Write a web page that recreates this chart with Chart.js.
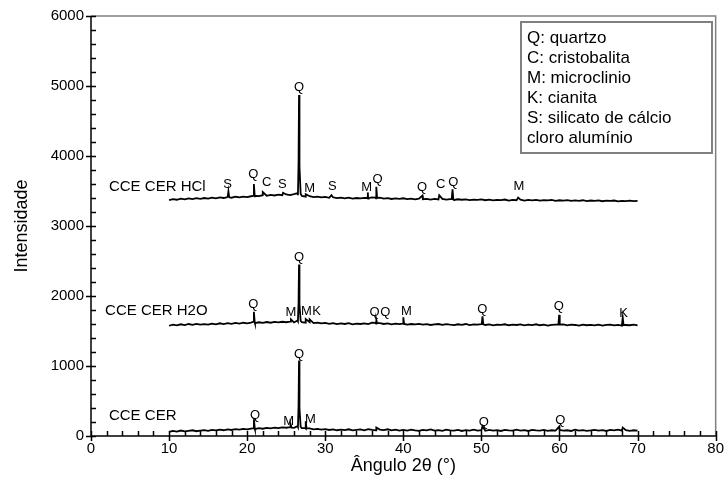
<!DOCTYPE html>
<html>
<head>
<meta charset="utf-8">
<script src="https://cdn.jsdelivr.net/npm/chart.js@4.4.1/dist/chart.umd.min.js"></script>
<style>
  html, body { margin: 0; background: #fff; }
</style>
</head>
<body>
<canvas id="xrd" width="728" height="500"></canvas>
<script>
// baseline scans, one value every 0.5 degree from 10 to 70
const angleStart = 10;
const angleStep = 0.5;

const cerBase = [
  58, 72, 64, 78, 66, 74, 82, 68, 76, 84,
  74, 86, 80, 92, 82, 94, 86, 98, 90, 102,
  96, 106, 98, 112, 104, 116, 108, 120, 112, 124,
  118, 126, 116, 128, 112, 104, 110, 96, 102, 92,
  98, 86, 94, 82, 90, 84, 96, 80, 88, 94,
  82, 98, 86, 80, 92, 84, 96, 80, 90, 78,
  86, 76, 92, 80, 74, 88, 80, 94, 78, 84,
  74, 90, 80, 76, 86, 72, 84, 78, 90, 76,
  82, 74, 88, 78, 84, 72, 86, 80, 76, 90,
  78, 84, 72, 88, 80, 76, 86, 74, 82, 78,
  86, 76, 82, 72, 90, 78, 84, 74, 80, 88,
  76, 84, 72, 86, 80, 92, 78, 84, 74, 82,
  78
];
const h2oBase = [
  1575, 1590, 1580, 1596, 1585, 1600, 1588, 1602, 1592, 1598,
  1590, 1605, 1595, 1610, 1598, 1612, 1602, 1615, 1605, 1618,
  1610, 1620, 1612, 1625, 1615, 1628, 1618, 1630, 1622, 1632,
  1625, 1635, 1622, 1640, 1628, 1620, 1626, 1612, 1620, 1608,
  1615, 1602, 1612, 1598, 1608, 1600, 1612, 1596, 1606, 1600,
  1610, 1598, 1618, 1605, 1612, 1600, 1608, 1596, 1604, 1598,
  1606, 1592, 1600, 1594, 1602, 1590, 1598, 1586, 1596, 1600,
  1588, 1598, 1590, 1585, 1596, 1588, 1600, 1584, 1594, 1590,
  1598, 1586, 1594, 1580, 1592, 1588, 1596, 1582, 1590, 1586,
  1594, 1580, 1590, 1585, 1596, 1582, 1590, 1578, 1588, 1592,
  1584, 1594, 1580, 1590, 1586, 1578, 1592, 1582, 1588, 1580,
  1590, 1578, 1586, 1592, 1580, 1588, 1576, 1586, 1582, 1590,
  1580
];
const hclBase = [
  3370, 3385, 3375, 3390, 3380, 3395, 3384, 3398, 3388, 3400,
  3392, 3405, 3396, 3410, 3400, 3414, 3404, 3418, 3408, 3420,
  3412, 3425, 3432, 3428, 3440, 3432, 3445, 3436, 3448, 3440,
  3450, 3442, 3455, 3440, 3430, 3420, 3426, 3412, 3420, 3408,
  3415, 3402, 3410, 3398, 3406, 3395, 3404, 3392, 3400, 3394,
  3402, 3390, 3410, 3396, 3404, 3390, 3398, 3386, 3395, 3388,
  3396, 3384, 3392, 3380, 3390, 3382, 3388, 3378, 3386, 3380,
  3388, 3376, 3384, 3372, 3382, 3375, 3380, 3370, 3378, 3374,
  3380, 3368, 3376, 3366, 3374, 3370, 3378, 3364, 3372, 3368,
  3376, 3364, 3372, 3366, 3374, 3362, 3370, 3366, 3372, 3360,
  3368, 3362, 3370, 3358, 3366, 3360, 3368, 3356, 3364, 3360,
  3366, 3354, 3362, 3358, 3364, 3352, 3360, 3356, 3362, 3354,
  3358
];

// reflections: [angle, intensity]
const cerPeaks = [
  [20.75, 110], [20.86, 240], [20.97, 112],
  [25.5, 125], [25.6, 170], [25.7, 120],
  [26.45, 140], [26.58, 420], [26.64, 1080], [26.7, 400], [26.85, 130],
  [27.4, 115], [27.5, 210], [27.6, 110],
  [36.54, 120], [50.14, 140], [59.96, 135], [68.1, 120]
];
const h2oPeaks = [
  [20.75, 1630], [20.86, 1775], [20.97, 1625],
  [25.6, 1665],
  [26.45, 1650], [26.58, 1900], [26.64, 2450], [26.7, 1880], [26.85, 1645],
  [27.5, 1670], [28.0, 1665],
  [36.44, 1615], [36.54, 1660], [36.64, 1612],
  [39.9, 1605], [40.0, 1695], [40.1, 1600],
  [50.04, 1600], [50.14, 1710], [50.24, 1595],
  [59.86, 1595], [59.96, 1730], [60.06, 1592],
  [68.0, 1592], [68.1, 1690], [68.2, 1588]
];
const hclPeaks = [
  [17.5, 3412], [17.6, 3495], [17.7, 3410],
  [20.75, 3430], [20.86, 3600], [20.97, 3425],
  [22.0, 3485], [24.6, 3475],
  [26.45, 3470], [26.58, 3900], [26.64, 4870], [26.7, 3850], [26.85, 3460],
  [27.5, 3455], [30.8, 3440],
  [35.35, 3400], [35.45, 3480], [35.55, 3398],
  [36.44, 3405], [36.54, 3560], [36.64, 3400],
  [42.45, 3435], [44.6, 3440],
  [46.2, 3385], [46.3, 3525], [46.4, 3380],
  [54.7, 3405]
];

// phase letters: [text, angle, intensity]
const cerTags = [
  ['Q', 21.0, 300], ['M', 25.3, 215], ['Q', 26.64, 1165], ['M', 28.1, 235],
  ['Q', 50.3, 200], ['Q', 60.1, 228]
];
const h2oTags = [
  ['Q', 20.8, 1880], ['M', 25.6, 1767], ['Q', 26.64, 2550], ['M', 27.6, 1786],
  ['K', 28.9, 1786], ['Q', 36.3, 1767], ['Q', 37.7, 1760], ['M', 40.4, 1781],
  ['Q', 50.1, 1810], ['Q', 59.9, 1857], ['K', 68.2, 1753]
];
const hclTags = [
  ['S', 17.5, 3590], ['Q', 20.8, 3735], ['C', 22.5, 3620], ['S', 24.5, 3590],
  ['Q', 26.64, 4975], ['M', 28.0, 3535], ['S', 30.9, 3565], ['M', 35.3, 3550],
  ['Q', 36.7, 3665], ['Q', 42.4, 3550], ['C', 44.8, 3590], ['Q', 46.4, 3620],
  ['M', 54.8, 3565]
];

// sample names: [text, angle, intensity]
const sampleNames = [
  ['CCE CER HCl', 2.3, 3560],
  ['CCE CER H2O', 1.8, 1781],
  ['CCE CER', 2.3, 290]
];

const legendLines = [
  'Q: quartzo',
  'C: cristobalita',
  'M: microclinio',
  'K: cianita',
  'S: silicato de cálcio',
  'cloro alumínio'
];

const FONT = '"Liberation Sans", Arial, sans-serif';

function buildScan(base, peaks) {
  const pts = base.map((v, i) => ({ x: angleStart + i * angleStep, y: v }));
  peaks.forEach(p => pts.push({ x: p[0], y: p[1] }));
  return pts.sort((a, b) => a.x - b.x);
}

function scanDataset(label, base, peaks) {
  return {
    label,
    data: buildScan(base, peaks),
    showLine: true,
    borderColor: '#000',
    borderWidth: 1.8,
    pointRadius: 0,
    tension: 0
  };
}

const decorations = {
  id: 'decorations',
  afterDatasetsDraw(chart) {
    const { ctx, chartArea: a, scales: { x, y } } = chart;
    ctx.save();

    // grey frame on top and right
    ctx.strokeStyle = '#808080';
    ctx.lineWidth = 1.5;
    ctx.beginPath();
    ctx.moveTo(a.left, a.top);
    ctx.lineTo(a.right, a.top);
    ctx.lineTo(a.right, a.bottom);
    ctx.stroke();

    // black axes and tick marks
    ctx.strokeStyle = '#000';
    ctx.lineWidth = 1.5;
    ctx.beginPath();
    ctx.moveTo(a.left, a.top);
    ctx.lineTo(a.left, a.bottom);
    ctx.lineTo(a.right, a.bottom);
    for (let v = 0; v <= 6000; v += 200) {
      const py = Math.round(y.getPixelForValue(v)) + 0.5;
      const major = v % 1000 === 0;
      ctx.moveTo(major ? a.left - 5 : a.left, py);
      ctx.lineTo(a.left + 5, py);
    }
    for (let v = 0; v <= 80; v += 2) {
      const px = Math.round(x.getPixelForValue(v)) + 0.5;
      const major = v % 10 === 0;
      ctx.moveTo(px, a.bottom - 5);
      ctx.lineTo(px, major ? a.bottom + 5 : a.bottom);
    }
    ctx.stroke();

    // phase letters
    ctx.fillStyle = '#000';
    ctx.textAlign = 'center';
    ctx.textBaseline = 'middle';
    ctx.font = '13px ' + FONT;
    [cerTags, h2oTags, hclTags].forEach(tags => {
      tags.forEach(([t, ang, val]) => {
        ctx.fillText(t, x.getPixelForValue(ang), y.getPixelForValue(val));
      });
    });

    // sample names
    ctx.textAlign = 'left';
    ctx.font = '15px ' + FONT;
    sampleNames.forEach(([t, ang, val]) => {
      ctx.fillText(t, x.getPixelForValue(ang), y.getPixelForValue(val));
    });

    // legend box
    const bx = 521, by = 22, bw = 191, bh = 131;
    ctx.strokeStyle = '#808080';
    ctx.lineWidth = 2;
    ctx.strokeRect(bx, by, bw, bh);
    ctx.font = '17px ' + FONT;
    legendLines.forEach((line, i) => {
      ctx.fillText(line, bx + 6, by + 16 + i * 20);
    });

    ctx.restore();
  }
};

new Chart(document.getElementById('xrd'), {
  type: 'scatter',
  data: {
    datasets: [
      scanDataset('CCE CER', cerBase, cerPeaks),
      scanDataset('CCE CER H2O', h2oBase, h2oPeaks),
      scanDataset('CCE CER HCl', hclBase, hclPeaks)
    ]
  },
  plugins: [decorations],
  options: {
    responsive: false,
    animation: false,
    devicePixelRatio: 1,
    layout: { padding: { top: 15, right: 9, left: 0, bottom: 0 } },
    plugins: { legend: { display: false }, tooltip: { enabled: false } },
    scales: {
      x: {
        type: 'linear', min: 0, max: 80,
        grid: { display: false, drawTicks: false },
        border: { display: false },
        ticks: { stepSize: 10, color: '#000', padding: 4, font: { family: FONT, size: 15 }, callback: v => String(v) },
        title: { display: true, text: 'Ângulo 2θ (°)', color: '#000', font: { family: FONT, size: 18 }, padding: { top: 4, bottom: 23 } },
        afterFit(scale) { scale.height = 64; }
      },
      y: {
        type: 'linear', min: 0, max: 6000,
        grid: { display: false, drawTicks: false },
        border: { display: false },
        ticks: { stepSize: 1000, color: '#000', padding: 7, font: { family: FONT, size: 15 }, callback: v => String(v) },
        title: { display: true, text: 'Intensidade', color: '#000', font: { family: FONT, size: 18 }, padding: { top: 11, bottom: 0 } },
        afterFit(scale) { scale.width = 91; }
      }
    }
  }
});
</script>
</body>
</html>
